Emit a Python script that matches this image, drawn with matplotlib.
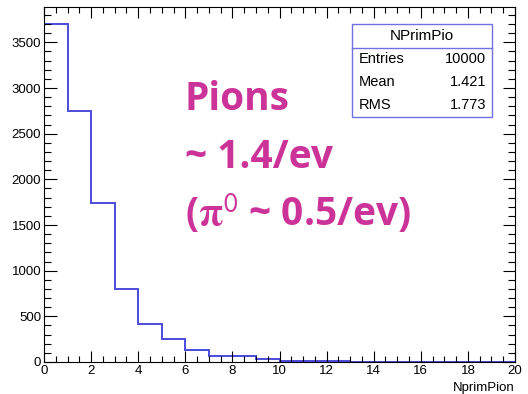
import matplotlib
matplotlib.use("Agg")
import matplotlib.pyplot as plt
from matplotlib.ticker import MultipleLocator
from matplotlib.patches import Rectangle
from matplotlib.lines import Line2D

bin_edges = list(range(0, 21))
counts = [3702, 2750, 1745, 800, 412, 248, 130, 70, 62, 30, 15, 9, 6, 4, 2, 1, 1, 0, 0, 0]
stats_title = "NPrimPio"
stats_rows = [("Entries", "10000"), ("Mean", "1.421"), ("RMS", "1.773")]
xlabel = "NprimPion"
annotation = ["Pions", "~ 1.4/ev", r"($\mathbf{\pi}^{\mathsf{0}}$ ~ 0.5/ev)"]

plt.rcParams['font.family'] = ['Liberation Sans', 'DejaVu Sans']
fig = plt.figure(figsize=(5.28, 3.94), dpi=100)
ax = fig.add_axes([44/528, 1-362/394, (515-44)/528, (362-7)/394])

ax.stairs(counts, bin_edges, color='#4b4bdc', linewidth=1.4)
ax.set_xlim(0, 20)
ax.set_ylim(0, 1.05*max(counts))
ax.xaxis.set_major_locator(MultipleLocator(2))
ax.xaxis.set_minor_locator(MultipleLocator(0.5))
ax.yaxis.set_major_locator(MultipleLocator(500))
ax.yaxis.set_minor_locator(MultipleLocator(100))
ax.tick_params(which='both', direction='in', top=True, right=True, labelsize=9.5, pad=2)
ax.tick_params(which='major', axis='y', length=9, width=0.8)
ax.tick_params(which='minor', axis='y', length=5, width=0.8)
ax.tick_params(which='major', axis='x', length=8, width=0.8)
ax.tick_params(which='minor', axis='x', length=4, width=0.8)
for s in ax.spines.values():
    s.set_linewidth(0.8)

fig.text(515/528, 1-388/394, xlabel, ha='right', va='center', fontsize=9.5)

# stats box
bx0, bx1, by0, by1 = 352/528, 492/528, 1-117/394, 1-24/394
fig.add_artist(Rectangle((bx0, by0), bx1-bx0, by1-by0, transform=fig.transFigure,
                         facecolor='white', edgecolor='#7070e0', linewidth=1.0, zorder=5))
sep = 1-48/394
fig.add_artist(Line2D([bx0, bx1], [sep, sep], transform=fig.transFigure,
                      color='#7070e0', linewidth=1.0, zorder=6))
fig.text((bx0+bx1)/2, 1-36/394, stats_title, ha='center', va='center', fontsize=11, zorder=7)
for i, (k, v) in enumerate(stats_rows):
    y = 1-(59+23*i)/394
    fig.text(359/528, y, k, ha='left', va='center', fontsize=10.5, zorder=7)
    fig.text(486/528, y, v, ha='right', va='center', fontsize=10.5, zorder=7)

col = '#cc3399'
for i, line in enumerate(annotation):
    fig.text(185/528, 1-(110+58*i)/394, line, ha='left', va='baseline', fontsize=28,
             fontweight='bold', color=col, family=['Open Sans', 'DejaVu Sans'],
             math_fontfamily='stix')

fig.savefig('out.png', dpi=100)
